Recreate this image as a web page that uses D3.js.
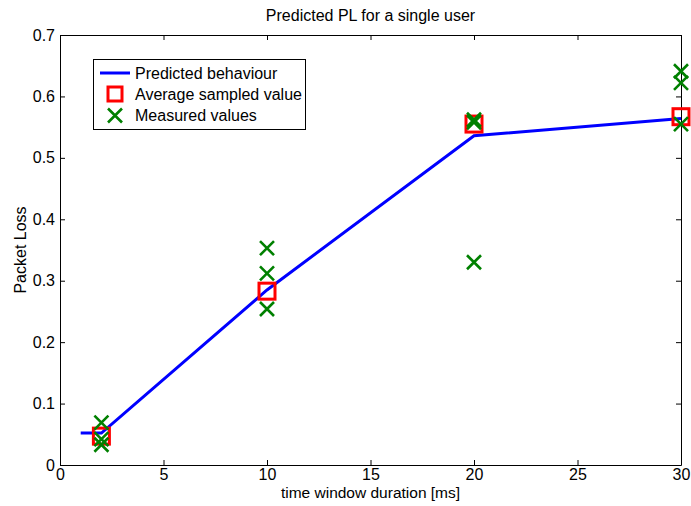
<!DOCTYPE html>
<html>
<head>
<meta charset="utf-8">
<script src="https://cdn.jsdelivr.net/npm/d3@7"></script>
<style>
  body { margin: 0; background: #fff; }
  svg { display: block; font-family: "Liberation Sans", Arial, sans-serif; }
</style>
</head>
<body>
<svg></svg>
<script>
const width = 691;
const height = 506;
const margin = { top: 35, right: 10, bottom: 41, left: 60 };

// data
const predX = [1, 2, 10, 20, 30];
const predY = [0.052, 0.052, 0.285, 0.536, 0.564];

const avgX = [2, 10, 20, 30];
const avgY = [0.047, 0.283, 0.555, 0.567];

const measX = [2, 2, 2, 10, 10, 10, 20, 20, 20, 30, 30, 30];
const measY = [0.069, 0.042, 0.033, 0.353, 0.312, 0.254, 0.558, 0.562, 0.330, 0.641, 0.622, 0.555];

const xTicks = [0, 5, 10, 15, 20, 25, 30];
const yTicks = [0, 0.1, 0.2, 0.3, 0.4, 0.5, 0.6, 0.7];

const legendLabels = ['Predicted behaviour', 'Average sampled value', 'Measured values'];

const fs = 16;

const svg = d3.select('svg')
  .attr('width', width)
  .attr('height', height);

const x = d3.scaleLinear().domain([0, 30]).range([margin.left, width - margin.right]);
const y = d3.scaleLinear().domain([0, 0.7]).range([height - margin.bottom, margin.top]);

// ===== axes (inward ticks on all sides, matlab style) =====
const fmtY = d => d === 0 ? '0' : d3.format('.1f')(d);

svg.append('g')
  .attr('transform', `translate(0,${y(0)})`)
  .call(d3.axisBottom(x).tickValues(xTicks).tickSizeInner(-5).tickSizeOuter(0).tickPadding(4))
  .call(g => g.selectAll('text').attr('font-size', fs));

svg.append('g')
  .attr('transform', `translate(0,${y(0.7)})`)
  .call(d3.axisTop(x).tickValues(xTicks).tickSizeInner(-5).tickSizeOuter(0).tickFormat(''));

svg.append('g')
  .attr('transform', `translate(${x(0)},0)`)
  .call(d3.axisLeft(y).tickValues(yTicks).tickFormat(fmtY).tickSizeInner(-5).tickSizeOuter(0).tickPadding(5))
  .call(g => g.selectAll('text').attr('font-size', fs));

svg.append('g')
  .attr('transform', `translate(${x(30)},0)`)
  .call(d3.axisRight(y).tickValues(yTicks).tickSizeInner(-5).tickSizeOuter(0).tickFormat(''));

svg.selectAll('.domain').attr('stroke', '#000').attr('stroke-width', 1);
svg.selectAll('.tick line').attr('stroke', '#000');
svg.selectAll('.tick text').attr('fill', '#000');

// ===== series =====
const line = d3.line().x((d, i) => x(predX[i])).y(d => y(d));

svg.append('path')
  .datum(predY)
  .attr('d', line)
  .attr('fill', 'none')
  .attr('stroke', '#0000ff')
  .attr('stroke-width', 3);

const sq = 16;
svg.selectAll('rect.avg')
  .data(avgY)
  .enter()
  .append('rect')
    .attr('class', 'avg')
    .attr('x', (d, i) => x(avgX[i]) - sq / 2)
    .attr('y', d => y(d) - sq / 2)
    .attr('width', sq)
    .attr('height', sq)
    .attr('fill', 'none')
    .attr('stroke', '#ff0000')
    .attr('stroke-width', 3);

const cross = 7;
const crossPath = (cx, cy) =>
  `M${cx - cross},${cy - cross}L${cx + cross},${cy + cross}M${cx - cross},${cy + cross}L${cx + cross},${cy - cross}`;

svg.selectAll('path.meas')
  .data(measY)
  .enter()
  .append('path')
    .attr('class', 'meas')
    .attr('d', (d, i) => crossPath(x(measX[i]), y(d)))
    .attr('stroke', '#008000')
    .attr('stroke-width', 2.6)
    .attr('fill', 'none');

// ===== legend =====
const lg = svg.append('g');
lg.append('rect')
  .attr('x', 93.5).attr('y', 59.5)
  .attr('width', 212).attr('height', 70)
  .attr('fill', '#fff').attr('stroke', '#000');

const rowY = [73, 94, 115.5];
lg.append('line')
  .attr('x1', 100).attr('x2', 130)
  .attr('y1', rowY[0]).attr('y2', rowY[0])
  .attr('stroke', '#0000ff').attr('stroke-width', 3);
lg.append('rect')
  .attr('x', 115 - 7).attr('y', rowY[1] - 7)
  .attr('width', 14).attr('height', 14)
  .attr('fill', 'none').attr('stroke', '#ff0000').attr('stroke-width', 3);
lg.append('path')
  .attr('d', crossPath(115, rowY[2]))
  .attr('stroke', '#008000').attr('stroke-width', 2.6);

lg.selectAll('text')
  .data(legendLabels)
  .enter()
  .append('text')
    .attr('x', 135)
    .attr('y', (d, i) => rowY[i])
    .attr('dy', '0.35em')
    .attr('font-size', fs)
    .text(d => d);

// ===== titles =====
svg.append('text')
  .attr('x', (x(0) + x(30)) / 2)
  .attr('y', 21)
  .attr('text-anchor', 'middle')
  .attr('font-size', fs)
  .text('Predicted PL for a single user');

svg.append('text')
  .attr('x', (x(0) + x(30)) / 2)
  .attr('y', 498)
  .attr('text-anchor', 'middle')
  .attr('font-size', 15.5)
  .text('time window duration [ms]');

svg.append('text')
  .attr('transform', `translate(26,${(y(0) + y(0.7)) / 2}) rotate(-90)`)
  .attr('text-anchor', 'middle')
  .attr('font-size', fs)
  .text('Packet Loss');
</script>
</body>
</html>
